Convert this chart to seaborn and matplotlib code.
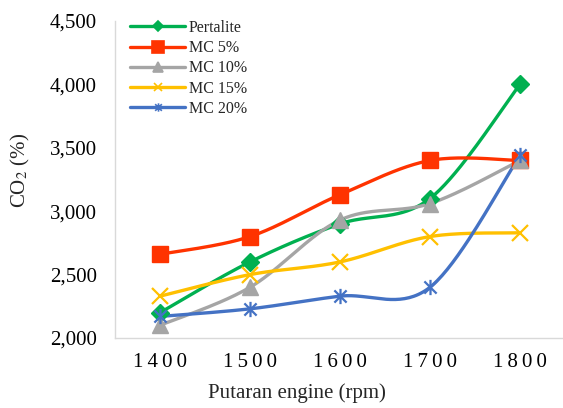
import numpy as np
import pandas as pd
import matplotlib
matplotlib.use("Agg")
import matplotlib.pyplot as plt
from matplotlib.path import Path
from matplotlib.lines import Line2D
import seaborn as sns

# Engine speed categories (rpm) and CO2 readings per fuel blend
rpm = ["1400", "1500", "1600", "1700", "1800"]
pertalite = [2200, 2600, 2900, 3100, 4000]
mc5 = [2660, 2800, 3130, 3400, 3400]
mc10 = [2100, 2400, 2930, 3060, 3400]
mc15 = [2330, 2500, 2600, 2800, 2830]
mc20 = [2170, 2230, 2330, 2400, 3440]

series_names = ["Pertalite", "MC 5%", "MC 10%", "MC 15%", "MC 20%"]
series_values = [pertalite, mc5, mc10, mc15, mc20]
colors = ["#00B050", "#FF3300", "#A5A5A5", "#FFC000", "#4472C4"]

# Asterisk marker: x-cross plus a vertical bar
star_path = Path(
    [(-1, -1), (1, 1), (-1, 1), (1, -1), (0, -1.25), (0, 1.25)],
    [Path.MOVETO, Path.LINETO, Path.MOVETO, Path.LINETO, Path.MOVETO, Path.LINETO],
)
markers = ["D", "s", "^", "x", star_path]
marker_sizes = [9, 12, 11, 12, 11]
legend_marker_sizes = [5, 8, 6.5, 6, 6]


def smooth(xs, ys, n=40):
    """Catmull-Rom style Bezier smoothing (spreadsheet 'smoothed line')."""
    p = np.column_stack([xs, ys]).astype(float)
    out = [p[0]]
    t = np.linspace(0, 1, n)[1:]
    for i in range(len(p) - 1):
        p0 = p[i - 1] if i > 0 else p[i]
        p1, p2 = p[i], p[i + 1]
        p3 = p[i + 2] if i + 2 < len(p) else p[i + 1]
        c1 = p1 + (p2 - p0) / 6.0
        c2 = p2 - (p3 - p1) / 6.0
        for tt in t:
            b = ((1 - tt) ** 3) * p1 + 3 * ((1 - tt) ** 2) * tt * c1 \
                + 3 * (1 - tt) * tt ** 2 * c2 + tt ** 3 * p2
            out.append(b)
    out = np.array(out)
    return out[:, 0], out[:, 1]


sns.set_theme(style="white")
plt.rcParams["font.family"] = ["Liberation Serif", "DejaVu Serif"]
plt.rcParams["mathtext.fontset"] = "stix"

fig = plt.figure(figsize=(5.63, 4.08), dpi=100)
ax = fig.add_axes([115 / 563, 1 - 338 / 408, 448 / 563, 317 / 408])

xpos = np.arange(len(rpm))

# Smoothed connecting curves
for name, vals, col in zip(series_names, series_values, colors):
    sx, sy = smooth(xpos, vals)
    curve = pd.DataFrame({"x": sx, "y": sy})
    sns.lineplot(data=curve, x="x", y="y", color=col, sort=False,
                 estimator=None, linewidth=2.4, ax=ax)

# Markers at the measured points
for vals, col, mk, ms in zip(series_values, colors, markers, marker_sizes):
    mew = 1.6 if mk == "x" or isinstance(mk, Path) else 1.0
    ax.plot(xpos, vals, linestyle="none", marker=mk, markersize=ms,
            color=col, markeredgecolor=col, markeredgewidth=mew, zorder=3)

ax.set_xlim(-0.5, 4.478)
ax.set_ylim(2000, 4500)
yticks = [2000, 2500, 3000, 3500, 4000, 4500]
ax.set_yticks(yticks)
ax.set_yticklabels([f"{v:,}" for v in yticks])
ax.set_xticks(xpos)
ax.set_xticklabels(["\u2009".join(r) for r in rpm])
ax.tick_params(axis="both", length=0, labelsize=15, colors="#000000")
ax.tick_params(axis="y", pad=13)
ax.tick_params(axis="x", pad=11)

for side in ["top", "right"]:
    ax.spines[side].set_visible(False)
for side in ["left", "bottom"]:
    ax.spines[side].set_color("#D9D9D9")
    ax.spines[side].set_linewidth(1.0)
ax.grid(False)

ax.set_xlabel("Putaran engine (rpm)", fontsize=15)
ax.xaxis.set_label_coords((297 - 115) / 448, (338 - 393) / 317)
ax.xaxis.label.set_va("center")
ax.set_ylabel(r"CO$_2$ (%)", fontsize=15)
ax.yaxis.set_label_coords((32 - 115) / 448, (338 - 170) / 317)

handles = [
    Line2D([0], [0], color=col, linewidth=2.4, marker=mk, markersize=ms,
           markeredgecolor=col, markeredgewidth=1.2)
    for col, mk, ms in zip(colors, markers, legend_marker_sizes)
]
ax.legend(handles, series_names, loc="upper left",
          bbox_to_anchor=((124 - 115) / 448, 1.024), frameon=False,
          fontsize=11.5, handlelength=3.4, handletextpad=0.25,
          labelspacing=0.27, borderaxespad=0.0)

fig.savefig("out.png", dpi=100)
